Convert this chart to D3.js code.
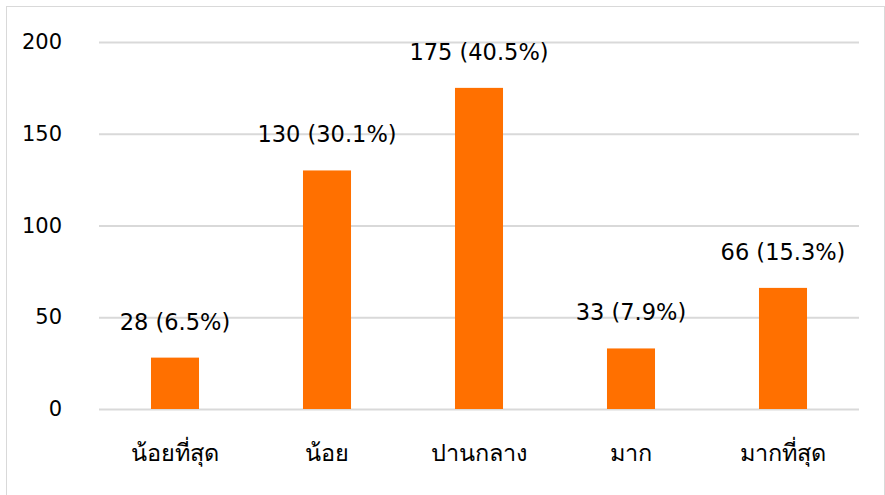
<!DOCTYPE html>
<html><head><meta charset="utf-8">
<script src="https://cdn.jsdelivr.net/npm/d3@7"></script>
<style>body{margin:0;background:#fff;} text{font-family:Tahoma,"DejaVu Sans","Noto Sans",sans-serif;}</style>
</head><body><svg id="c" width="885" height="495"></svg>
<script>
const categories = ["น้อยที่สุด","น้อย","ปานกลาง","มาก","มากที่สุด"];
const values = [28,130,175,33,66];
const percents = ["6.5%","30.1%","40.5%","7.9%","15.3%"];
const yTicks = [0,50,100,150,200];

const svg = d3.select("#c");
svg.append("rect").attr("x",6.5).attr("y",6.5).attr("width",878).attr("height",500)
  .attr("fill","#fff").attr("stroke","#d9d9d9").attr("stroke-width",1);

const x = d3.scaleBand().domain(categories).range([99,859]).padding(0);
const y = d3.scaleLinear().domain([0,200]).range([409,42]);

const yAxis = svg.append("g").attr("transform","translate(99,0)")
  .call(d3.axisLeft(y).tickValues(yTicks).tickSize(-760).tickFormat(d3.format("d")).tickPadding(37));
yAxis.select(".domain").remove();
yAxis.selectAll("line").attr("stroke","#d9d9d9").attr("stroke-width",2);
yAxis.selectAll("text").attr("font-size",21).attr("fill","#000")
  .style("font-family",'Tahoma,"DejaVu Sans",sans-serif');

const bw = x.bandwidth()*0.316;
svg.selectAll("rect.bar").data(values).enter().append("rect").attr("class","bar")
  .attr("x",(d,i)=>x(categories[i])+x.bandwidth()/2-bw/2)
  .attr("y",d=>y(d)).attr("width",bw).attr("height",d=>y(0)-y(d))
  .attr("fill","#ff7000");

svg.selectAll("text.lbl").data(values).enter().append("text").attr("class","lbl")
  .attr("x",(d,i)=>x(categories[i])+x.bandwidth()/2)
  .attr("y",d=>y(d)-28).attr("text-anchor","middle").attr("font-size",22.5).attr("fill","#000")
  .text((d,i)=>d+" ("+percents[i]+")");

const xAxis = svg.append("g").attr("transform","translate(0,409)")
  .call(d3.axisBottom(x).tickSize(0).tickPadding(35));
xAxis.select(".domain").remove();
xAxis.selectAll("text").attr("font-size",23.5).attr("fill","#000")
  .style("font-family",'Tahoma,"DejaVu Sans",sans-serif');
</script></body></html>
